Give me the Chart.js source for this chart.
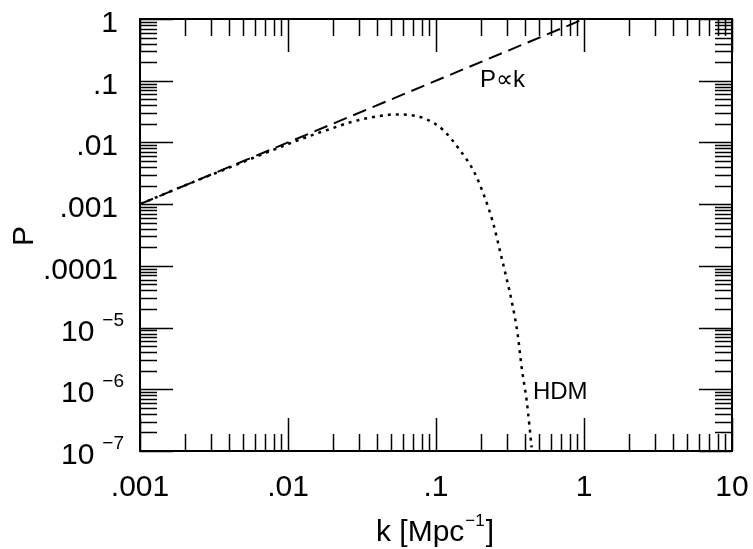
<!DOCTYPE html>
<html>
<head>
<meta charset="utf-8">
<script src="https://cdn.jsdelivr.net/npm/chart.js@4.4.1/dist/chart.umd.min.js"></script>
<style>
  html, body { margin: 0; padding: 0; background: #fff; }
  #wrap { width: 753px; height: 549px; }
</style>
</head>
<body>
<div id="wrap"><canvas id="spectrum" width="753" height="549"></canvas></div>
<script>
// P proportional to k (dashed reference line)
const lineK = [0.001, 1];
const lineP = [0.001, 1];

// HDM power spectrum
const hdmK = [0.001, 0.002, 0.004, 0.007, 0.01, 0.015, 0.02, 0.026, 0.035, 0.045, 0.052, 0.065,
  0.087, 0.112, 0.145, 0.179, 0.209, 0.244, 0.27, 0.30, 0.324, 0.356, 0.379, 0.41, 0.443];
const hdmP = [0.001, 0.002, 0.0039, 0.0067, 0.0094, 0.0135, 0.017, 0.021, 0.025, 0.0275, 0.0284, 0.028,
  0.0235, 0.0158, 0.0075, 0.0035, 0.00148, 0.00048, 0.000178, 0.000062, 0.0000274, 0.0000079,
  0.00000227, 0.00000065, 0.000000114];

// tick labels
const xTickVals = [0.001, 0.01, 0.1, 1, 10];
const xTickText = [".001", ".01", ".1", "1", "10"];
const yTickVals = [1, 0.1, 0.01, 0.001, 0.0001, 1e-5, 1e-6, 1e-7];
const yTickText = ["1", ".1", ".01", ".001", ".0001", "10|\u22125", "10|\u22126", "10|\u22127"];

const FONT = '"Liberation Sans", Arial, Helvetica, sans-serif';

function pairs(xs, ys) {
  return xs.map((x, i) => ({ x: x, y: ys[i] }));
}

// draws frame, inward ticks on all four sides and the labels
const framePlugin = {
  id: "frame",
  afterDraw(chart) {
    const { ctx, chartArea: a, scales } = chart;
    const xs = scales.x, ys = scales.y;
    ctx.save();
    ctx.strokeStyle = "#000";
    ctx.fillStyle = "#000";

    ctx.lineWidth = 1.5;
    ctx.beginPath();
    for (let n = -3; n <= 1; n++) {
      for (let m = 1; m <= 9; m++) {
        const v = m * Math.pow(10, n);
        if (v > 10.0001) continue;
        const px = Math.round(xs.getPixelForValue(v)) + 0.5;
        const len = m === 1 ? 33 : 17;
        ctx.moveTo(px, a.bottom); ctx.lineTo(px, a.bottom - len);
        ctx.moveTo(px, a.top); ctx.lineTo(px, a.top + len);
      }
    }
    for (let n = -7; n <= 0; n++) {
      for (let m = 1; m <= 9; m++) {
        const v = m * Math.pow(10, n);
        if (v > 1.0001) continue;
        const py = Math.round(ys.getPixelForValue(v)) + 0.5;
        const len = m === 1 ? 33 : 17;
        ctx.moveTo(a.left, py); ctx.lineTo(a.left + len, py);
        ctx.moveTo(a.right, py); ctx.lineTo(a.right - len, py);
      }
    }
    ctx.stroke();

    ctx.lineWidth = 2;
    ctx.strokeRect(a.left, a.top, a.right - a.left, a.bottom - a.top);

    // x tick labels
    ctx.font = "30px " + FONT;
    ctx.textAlign = "center";
    ctx.textBaseline = "alphabetic";
    xTickVals.forEach((v, i) => {
      ctx.fillText(xTickText[i], xs.getPixelForValue(v), 496);
    });

    // y tick labels
    yTickVals.forEach((v, i) => {
      const py = ys.getPixelForValue(v) + 13;
      const t = yTickText[i];
      if (t.indexOf("|") < 0) {
        ctx.font = "30px " + FONT;
        ctx.textAlign = "right";
        ctx.fillText(t, 118, py);
      } else {
        const [base, sup] = t.split("|");
        ctx.font = "19px " + FONT;
        const ws = ctx.measureText(sup).width;
        ctx.textAlign = "left";
        ctx.fillText(sup, 124 - ws, py - 15);
        ctx.font = "30px " + FONT;
        ctx.textAlign = "right";
        ctx.fillText(base, 124 - ws - 8, py);
      }
    });

    // axis titles
    ctx.font = "30px " + FONT;
    ctx.textAlign = "left";
    const t1 = "k [Mpc", t2 = "\u22121", t3 = "]";
    const w1 = ctx.measureText(t1).width, w3 = ctx.measureText(t3).width;
    ctx.font = "17px " + FONT;
    const w2 = ctx.measureText(t2).width;
    let tx = 434 - (w1 + w2 + w3) / 2;
    ctx.font = "30px " + FONT;
    ctx.fillText(t1, tx, 541);
    ctx.font = "17px " + FONT;
    ctx.fillText(t2, tx + w1 + 1, 526);
    ctx.font = "30px " + FONT;
    ctx.fillText(t3, tx + w1 + w2 + 2, 541);

    ctx.save();
    ctx.translate(33, 236);
    ctx.rotate(-Math.PI / 2);
    ctx.textAlign = "center";
    ctx.fillText("P", 0, 0);
    ctx.restore();

    // curve labels
    ctx.font = "24px " + FONT;
    ctx.textAlign = "left";
    ctx.fillText("P\u221dk", xs.getPixelForValue(0.198), ys.getPixelForValue(0.0787));
    ctx.fillText("HDM", xs.getPixelForValue(0.452), ys.getPixelForValue(7.0e-7));

    ctx.restore();
  }
};

new Chart(document.getElementById("spectrum"), {
  type: "line",
  data: {
    datasets: [
      {
        label: "P\u221dk",
        data: pairs(lineK, lineP),
        borderColor: "#000",
        borderWidth: 2,
        borderDash: [14, 7],
        pointRadius: 0,
        fill: false
      },
      {
        label: "HDM",
        data: pairs(hdmK, hdmP),
        borderColor: "#000",
        borderWidth: 2.5,
        borderDash: [3, 5],
        pointRadius: 0,
        cubicInterpolationMode: "monotone",
        fill: false
      }
    ]
  },
  options: {
    responsive: false,
    animation: false,
    layout: { padding: { left: 140, top: 19, right: 21, bottom: 98 } },
    plugins: {
      legend: { display: false },
      tooltip: { enabled: false }
    },
    scales: {
      x: { type: "logarithmic", min: 0.001, max: 10, display: false },
      y: { type: "logarithmic", min: 1e-7, max: 1, display: false }
    }
  },
  plugins: [framePlugin]
});
</script>
</body>
</html>
